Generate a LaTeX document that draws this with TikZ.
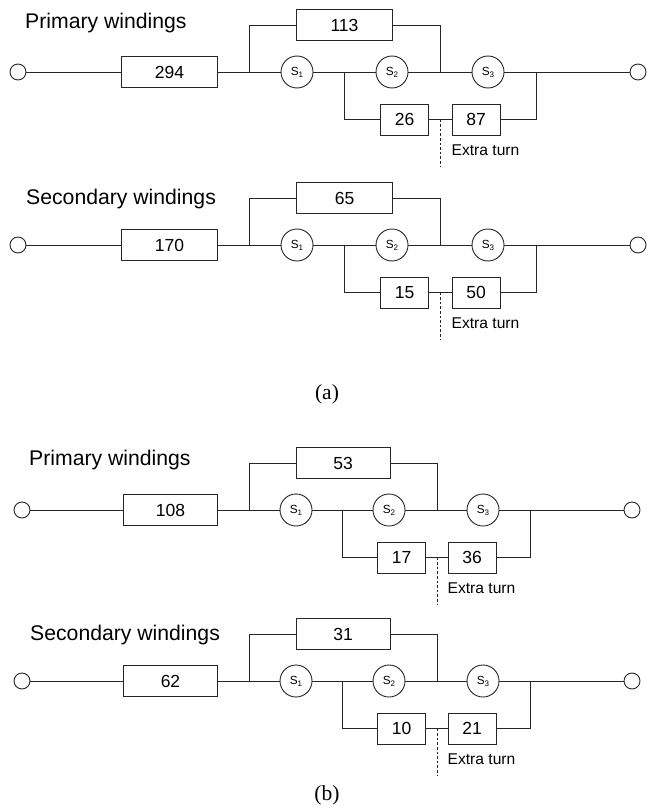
\documentclass[tikz,border=0pt]{standalone}
\usepackage{fontspec}
\setmainfont{Liberation Sans}
\newfontfamily\capfont{Liberation Serif}
\tikzset{
  wire/.style={draw=black!85, line width=0.95pt},
  turnline/.style={draw=black!85, line width=0.8pt, dash pattern=on 2.6pt off 2pt},
  bigbox/.style={draw=black!85, line width=1pt, fill=white, minimum height=31pt, inner sep=0pt, font=\fontsize{17.5}{19}\selectfont},
  smallbox/.style={bigbox},
  swcircle/.style={draw=black!85, line width=0.9pt, fill=white, circle, minimum size=32pt, inner sep=0pt, font=\fontsize{11.8}{12}\selectfont},
  termcircle/.style={draw=black!85, line width=0.9pt, fill=white, circle, minimum size=16pt, inner sep=0pt},
  titletext/.style={anchor=west, inner sep=0pt, font=\fontsize{21.2}{23}\selectfont},
  extratext/.style={anchor=west, inner sep=0pt, font=\fontsize{15.6}{17}\selectfont},
  captext/.style={inner sep=0pt, font=\capfont\fontsize{21.5}{23}\selectfont}
}
\newcommand{\swlabel}[1]{S\raisebox{-2pt}{\fontsize{8}{9}\selectfont #1}}
% #1 prefix, #2 main y, #3 title text, #4 title x, #5 title y, #6..#9 numbers
\newcommand{\winding}[9]{%
  \coordinate (#1ja) at (\xja,#2);
  \coordinate (#1jb) at (\xjb,#2);
  \coordinate (#1jc) at (\xjc,#2);
  \coordinate (#1jd) at (\xjd,#2);
  \coordinate (#1mid) at (\xjb,#2+47.5);
  \coordinate (#1dash) at (\xjb,#2+94.5);
  \node[titletext] (#1title) at (#4,#5) {#3};
  \node[termcircle] (#1in) at (\xin,#2) {};
  \node[termcircle] (#1out) at (\xout,#2) {};
  \node[bigbox, minimum width=\wmain pt] (#1main) at (\xmain,#2) {#6};
  \node[swcircle] (#1sa) at (\xsa,#2) {\swlabel{1}};
  \node[swcircle] (#1sb) at (\xsb,#2) {\swlabel{2}};
  \node[swcircle] (#1sc) at (\xsc,#2) {\swlabel{3}};
  \node[bigbox, minimum width=\wtop pt] (#1top) at (\xtop,#2-47) {#7};
  \node[smallbox, minimum width=48pt] (#1la) at (\xla,#2+47.5) {#8};
  \node[smallbox, minimum width=48pt] (#1lb) at (\xlb,#2+47.5) {#9};
  \node[extratext] (#1ex) at (\xex,#2+78) {Extra turn};
  \draw[wire] (#1in) -- (#1main) (#1main) -- (#1sa) (#1sa) -- (#1sb) (#1sb) -- (#1sc) (#1sc) -- (#1out);
  \draw[wire] (#1ja) |- (#1top);
  \draw[wire] (#1top) -| (#1jb);
  \draw[wire] (#1jc) |- (#1la);
  \draw[wire] (#1la) -- (#1lb);
  \draw[wire] (#1lb) -| (#1jd);
  \draw[turnline] (#1mid) -- (#1dash);
}
\begin{document}
\begin{tikzpicture}[x=1pt,y=-1pt]
\useasboundingbox (0,0) rectangle (646,808);
% layout (a)
\def\xin{18}\def\xout{638}\def\xmain{169.5}\def\wmain{96}\def\xja{249}\def\xsa{297}\def\xsb{392}\def\xsc{488}
\def\xjb{440}\def\xjc{344}\def\xjd{536}\def\xtop{344.5}\def\wtop{96}\def\xla{404.5}\def\xlb{476}\def\xex{451.5}
\winding{pa}{72}{Primary windings}{25}{23}{294}{113}{26}{87}
\winding{sa}{245}{Secondary windings}{26}{199}{170}{65}{15}{50}
\node[captext] (capa) at (327,394.5) {(a)};
% layout (b)
\def\xin{22}\def\xout{632}\def\xmain{170.5}\def\wmain{94}\def\xja{249}\def\xsa{296}\def\xsb{389}\def\xsc{483}
\def\xjb{437}\def\xjc{342.5}\def\xjd{530.5}\def\xtop{343}\def\wtop{94}\def\xla{401.5}\def\xlb{472}\def\xex{447.5}
\winding{pb}{510}{Primary windings}{29}{460}{108}{53}{17}{36}
\winding{sb}{681}{Secondary windings}{30}{635}{62}{31}{10}{21}
\node[captext] (capb) at (327,795) {(b)};
\end{tikzpicture}
\end{document}
